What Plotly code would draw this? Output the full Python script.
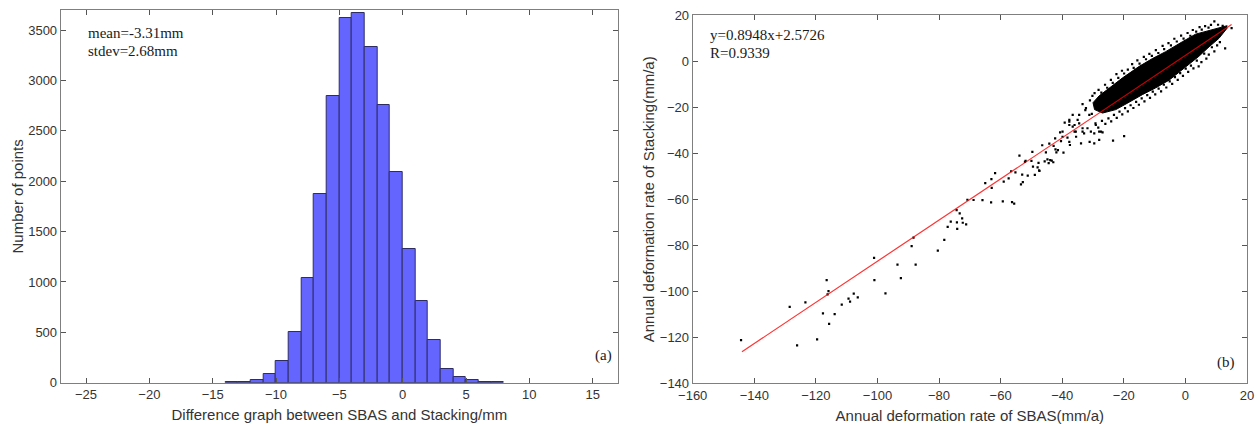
import plotly.graph_objects as go

# ---------------- Data: histogram (a) ----------------
bin_left_edges = [-14, -13, -12, -11, -10, -9, -8, -7, -6, -5, -4, -3, -2, -1, 0, 1, 2, 3, 4, 5, 6, 7]
bin_counts = [3, 5, 30, 86, 220, 505, 1044, 1870, 2848, 3616, 3672, 3334, 2759, 2087, 1330, 807, 423, 139, 60, 23, 11, 3]
hist_x_ticks = [-25, -20, -15, -10, -5, 0, 5, 10, 15]
hist_y_ticks = [0, 500, 1000, 1500, 2000, 2500, 3000, 3500]

# ---------------- Data: scatter (b) ----------------
# dense core of the point cloud (outline)
cloud_outline_x = [13.6, 8.0, 3.3, -1.0, -6.4, -10.7, -15.0, -20.4, -24.8, -28.0, -30.0,
                   -29.5, -26.9, -22.6, -18.3, -14.0, -9.6, -5.3, -2.1, 1.2, 4.4, 7.7, 10.9, 13.6]
cloud_outline_y = [15.5, 13.5, 11.8, 8.5, 4.2, 1.2, -2.2, -7.2, -11.5, -15.0, -18.0,
                   -21.0, -22.5, -21.0, -17.8, -14.5, -11.5, -8.2, -4.8, -1.2, 2.2, 6.3, 10.0, 14.5]

# individual outlying points (SBAS rate, Stacking rate)
outlier_sbas = [
    -144.3, -128.5, -123.4, -126.1, -116.5, -115.9, -116.2, -117.7, -119.6, -115.7, -113.9, -111.6,
    -109.4, -108.9, -107.7, -106.4, -101.0, -97.4, -93.5, -101.1, -92.4, -88.9, -88.3, -87.6, -80.4,
    -78.3, -77.2, -76.2, -74.2, -74.1, -74.3, -73.3, -72.5, -72.3, -71.2, -70.8, -68.8, -65.9, -63.1,
    -59.3, -56.3, -55.6, -65.0, -63.0, -62.9, -61.8, -59.0, -57.4, -56.6, -55.2, -53.4, -52.8, -53.0,
    -51.2, -48.9, -47.4,
    -53.9, -52.1, -51.9, -50.0, -49.7, -49.5, -48.0, -47.5, -47.7, -46.5, -45.7, -45.3, -44.8, -44.4,
    -43.9, -43.4, -42.9, -44.2, -42.8, -42.2, -41.9, -41.4, -42.3, -40.7, -39.9, -39.6, -40.4, -38.3,
    -37.7, -37.5, -39.2, -37.7, -36.6, -36.0, -35.5, -33.9, -33.4, -32.9, -31.8, -30.7, -29.6, -28.0,
    -26.9, -33.4, -32.5, -34.5, -36.0, -35.0, -37.7, -31.1, -29.6, -28.0, -19.9, -23.5, -27.4,
    -39.9, -37.7, -30.2, -34.5, -31.2, -29.1, -33.4, -35.6, -28.0, -32.3, -36.6,
]
outlier_stacking = [
    -121.2, -106.8, -104.8, -123.5, -95.1, -99.9, -101.3, -109.6, -120.9, -114.2, -109.9, -105.8,
    -103.2, -104.5, -101.0, -102.6, -95.1, -100.9, -88.4, -85.5, -94.3, -80.4, -76.7, -88.4, -82.3,
    -77.6, -72.0, -69.7, -70.0, -72.9, -64.7, -66.1, -68.3, -70.2, -70.9, -60.2, -60.3, -60.4, -61.3,
    -60.9, -61.2, -61.9, -53.0, -51.2, -55.0, -48.6, -52.3, -50.9, -47.8, -48.3, -53.5, -52.5, -49.3,
    -49.7, -49.4, -47.7,
    -41.0, -43.7, -43.3, -43.3, -39.4, -45.8, -46.1, -47.4, -44.2, -36.5, -43.5, -39.6, -42.6, -44.3,
    -43.0, -43.2, -43.9, -35.8, -36.8, -38.3, -39.6, -38.6, -33.5, -30.9, -32.8, -39.7, -34.7, -33.2,
    -35.0, -36.4, -26.7, -27.7, -28.4, -30.6, -32.8, -35.7, -30.6, -31.3, -29.1, -30.6, -31.3, -30.6,
    -30.9, -18.6, -21.2, -27.0, -27.7, -25.5, -25.5, -35.0, -35.7, -34.2, -32.5, -34.5, -30.6,
    -30.6, -26.2, -15.0, -23.3, -23.3, -27.7, -29.1, -30.6, -17.6, -20.4, -23.3,
]

# scattered points along the fuzzy edge of the cloud
edge_sbas = [
    -31.0, -29.5, -28.2, -27.3, -26.1, -25.4, -24.2, -23.6, -22.4, -21.8, -20.6, -19.9, -18.7, -17.3,
    -16.8, -15.6, -14.9, -13.5, -12.8, -11.7, -10.9, -9.6, -8.8, -7.4, -6.9, -5.5, -4.7, -3.6, -2.8,
    -1.4, -0.6, 0.7, 1.6, 2.4, 3.5, 4.6, 5.3, 6.4, 7.5, 9.4, 12.1, 15.0, 10.6, 8.3,
    12.9, 11.2, 10.3, 9.4, 8.6, 7.6, 6.8, 6.1, 5.2, 4.3, 3.7, 2.6, 1.8, 0.9, 0.1, -0.8, -1.7, -2.5,
    -3.4, -4.3, -5.1, -6.2, -7.0, -7.9, -8.7, -9.8, -10.6, -11.5, -12.4, -13.3, -14.2, -15.1, -16.0,
    -16.9, -17.8, -18.7, -19.6, -20.5, -21.4, -22.3, -23.2, -24.1, -25.0, -26.0, -27.1, -28.3, -29.2,
    -30.4,
]
edge_stacking = [
    -17.0, -13.8, -12.4, -13.6, -10.2, -11.5, -8.1, -9.4, -5.6, -7.2, -4.1, -5.3, -3.6, -1.2,
    -2.9, 0.4, -1.0, 1.9, 0.9, 3.2, 2.4, 4.9, 3.6, 6.7, 5.3, 7.9, 6.9, 9.8, 8.6,
    11.2, 9.9, 12.3, 11.1, 13.6, 12.9, 14.9, 13.8, 15.3, 14.6, 17.4, 15.4, 14.4, 15.9, 15.8,
    5.6, 8.3, 6.9, 4.3, 6.1, 2.9, 1.2, 3.3, -0.4, -2.2, 0.3, -3.1, -1.9, -4.6, -3.2, -6.3, -5.1, -8.1,
    -6.9, -9.8, -8.7, -11.4, -10.2, -13.1, -11.9, -14.4, -13.2, -15.9, -14.7, -17.4, -16.1, -18.9, -17.6,
    -20.3, -19.1, -21.8, -20.4, -23.1, -21.9, -24.6, -23.3, -26.1, -24.8, -27.2, -25.9, -28.8, -27.0,
    -22.9,
]

# fitted line endpoints
fit_x = [-144, 15]
fit_y = [-126.3, 16.0]

scatter_x_ticks = [-160, -140, -120, -100, -80, -60, -40, -20, 0, 20]
scatter_y_ticks = [-140, -120, -100, -80, -60, -40, -20, 0, 20]

# ---------------- Figure ----------------
fig = go.Figure()

bin_centers = [e + 0.5 for e in bin_left_edges]
fig.add_trace(go.Bar(
    x=bin_centers, y=bin_counts, width=1,
    marker=dict(color="rgb(100,100,255)", line=dict(color="rgb(45,45,100)", width=1)),
    xaxis="x", yaxis="y", showlegend=False,
))

fig.add_trace(go.Scatter(
    x=cloud_outline_x, y=cloud_outline_y, mode="lines", fill="toself",
    fillcolor="black", line=dict(color="black", width=1),
    xaxis="x2", yaxis="y2", showlegend=False, hoverinfo="skip",
))
fig.add_trace(go.Scatter(
    x=outlier_sbas + edge_sbas, y=outlier_stacking + edge_stacking, mode="markers",
    marker=dict(color="black", size=2.2, symbol="square"),
    xaxis="x2", yaxis="y2", showlegend=False,
))
fig.add_trace(go.Scatter(
    x=fit_x, y=fit_y, mode="lines",
    line=dict(color="rgb(255,0,0)", width=1.2), opacity=0.8,
    xaxis="x2", yaxis="y2", showlegend=False,
))

axis_common = dict(
    showline=True, linecolor="#7f7f7f", linewidth=1, mirror="ticks",
    ticks="inside", ticklen=5, tickcolor="#555555", tickwidth=1,
    showgrid=False, zeroline=False, automargin=False,
    tickfont=dict(family="Liberation Sans, Arial", size=13, color="#333333"),
)
title_font = dict(family="Liberation Sans, Arial", size=15, color="#333333")

W, H = 1257, 424
fig.update_layout(
    width=W, height=H,
    margin=dict(l=0, r=0, t=0, b=0),
    paper_bgcolor="white", plot_bgcolor="white",
    bargap=0,
    xaxis=dict(domain=[60.7 / W, 618 / W], range=[-27, 17], tickvals=hist_x_ticks,
               title=dict(text="Difference graph between SBAS and Stacking/mm", font=title_font, standoff=8),
               anchor="y", **axis_common),
    yaxis=dict(domain=[1 - 382.7 / H, 1 - 10 / H], range=[0, 3700], tickvals=hist_y_ticks,
               title=dict(text="Number of points", font=title_font, standoff=0),
               anchor="x", **axis_common),
    xaxis2=dict(domain=[692.7 / W, 1247 / W], range=[-160, 20], tickvals=scatter_x_ticks,
                title=dict(text="Annual deformation rate of SBAS(mm/a)", font=title_font, standoff=8),
                anchor="y2", **axis_common),
    yaxis2=dict(domain=[1 - 383.3 / H, 1 - 15.3 / H], range=[-140, 20], tickvals=scatter_y_ticks,
                title=dict(text="Annual deformation rate of Stacking(mm/a)", font=title_font, standoff=1),
                anchor="x2", **axis_common),
)

serif = dict(family="Liberation Serif, Times New Roman", size=15, color="#1a1a1a")
notes = [
    ("mean=-3.31mm", 86, 33, "left"),
    ("stdev=2.68mm", 86, 51, "left"),
    ("(a)", 603, 355, "center"),
    ("y=0.8948x+2.5726", 708, 35, "left"),
    ("R=0.9339", 708, 53, "left"),
    ("(b)", 1226, 362, "center"),
]
for text, px, py, anchor in notes:
    fig.add_annotation(text=text, x=px / W, y=1 - py / H, xref="paper", yref="paper",
                       xanchor=anchor, yanchor="middle", showarrow=False, font=serif)

fig.write_html("out.html")
